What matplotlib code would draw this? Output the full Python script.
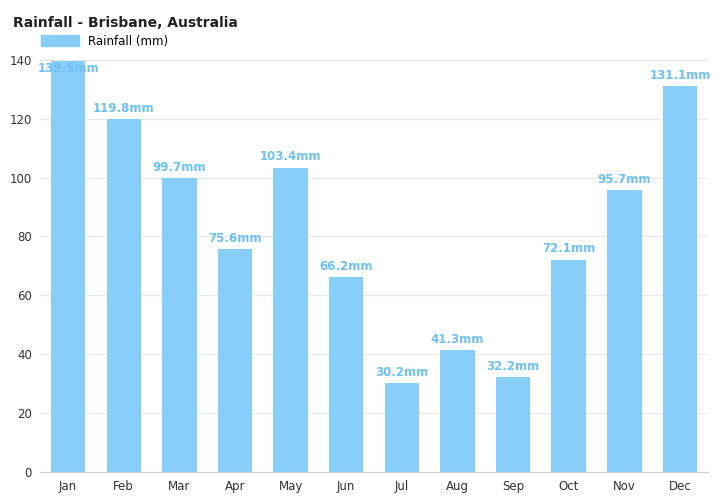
import matplotlib
matplotlib.use("Agg")
import matplotlib.pyplot as plt
from matplotlib.patches import Patch

months = ["Jan","Feb","Mar","Apr","May","Jun","Jul","Aug","Sep","Oct","Nov","Dec"]
rain = [139.5,119.8,99.7,75.6,103.4,66.2,30.2,41.3,32.2,72.1,95.7,131.1]

fig = plt.figure(figsize=(7.2,5.03), dpi=100)
ax = fig.add_axes([0.056,0.062,0.927,0.819])
bc = "#87cefa"
ax.bar(months, rain, width=0.62, color=bc, zorder=2)
for i, v in enumerate(rain):
    y = v + 1.5
    if y + 4 > 140:
        y = v - 4.5
    ax.text(i, y, f"{v}mm", ha="center", va="bottom", color="#6ec0f5",
            fontsize=8.5, fontweight="bold", zorder=3)
ax.set_ylim(0,140)
ax.set_xlim(-0.5, 11.5)
ax.set_yticks(range(0,141,20))
ax.grid(axis="y", color="#e8e8e8", lw=0.8, zorder=0)
for s in ["top","right","left"]:
    ax.spines[s].set_visible(False)
ax.spines["bottom"].set_color("#cccccc")
ax.tick_params(axis="both", length=0, labelsize=8.5, colors="#333333", pad=6)
fig.text(0.018, 0.955, "Rainfall - Brisbane, Australia", fontsize=10, fontweight="bold", color="#222222", va="center")
fig.legend(handles=[Patch(color=bc)], labels=["Rainfall (mm)"], loc="center left",
           bbox_to_anchor=(0.05,0.918), frameon=False, fontsize=8.5, handlelength=3.2, handleheight=1.1, borderaxespad=0)
fig.savefig("out.png", dpi=100)
